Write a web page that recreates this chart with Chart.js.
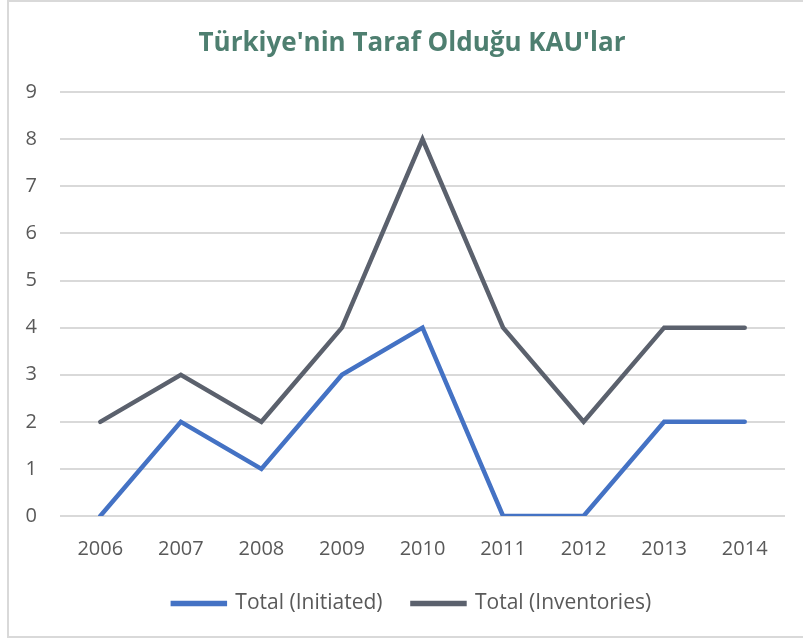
<!DOCTYPE html>
<html lang="tr">
<head>
<meta charset="UTF-8">
<title>Türkiye'nin Taraf Olduğu KAU'lar</title>
<script src="https://cdn.jsdelivr.net/npm/chart.js"></script>
<style>
    html, body { margin: 0; padding: 0; background: #ffffff; overflow: hidden; }
    #frame {
        position: absolute; left: 7px; top: 0px;
        width: 830px; height: 634px;
        border: 2px solid #d9d9d9;
    }
    #grafik {
        position: absolute; left: 8px; top: 0px;
        width: 808px; height: 640px;
    }
</style>
</head>
<body>
<div id="frame"></div>
<canvas id="grafik" width="808" height="640"></canvas>
<script>
    // Veriler
    const years = ['2006', '2007', '2008', '2009', '2010', '2011', '2012', '2013', '2014'];
    const initiated = [0, 2, 1, 3, 4, 0, 0, 2, 2];
    const inventories = [2, 3, 2, 4, 8, 4, 2, 4, 4];

    const fontFam = "'Open Sans', sans-serif";

    // el eje Y se estrecha para centrar el título; aquí se amplía la zona de etiquetas
    const ensancharEjeY = {
        id: 'ensancharEjeY',
        afterLayout(chart) {
            chart.scales.y.left = 2;
        }
    };

    new Chart(document.getElementById('grafik').getContext('2d'), {
        type: 'line',
        data: {
            labels: years,
            datasets: [
                {
                    label: 'Total (Initiated)',
                    data: initiated,
                    borderColor: '#4472c4',
                    backgroundColor: '#4472c4',
                    borderWidth: 4.5,
                    borderCapStyle: 'round',
                    pointRadius: 0,
                    tension: 0
                },
                {
                    label: 'Total (Inventories)',
                    data: inventories,
                    borderColor: '#5b616d',
                    backgroundColor: '#5b616d',
                    borderWidth: 4.5,
                    borderCapStyle: 'round',
                    pointRadius: 0,
                    tension: 0
                }
            ]
        },
        plugins: [ensancharEjeY],
        options: {
            responsive: false,
            animation: false,
            layout: { padding: { left: 31, right: 31, top: 0, bottom: 16 } },
            plugins: {
                title: {
                    display: true,
                    text: "Türkiye'nin Taraf Olduğu KAU'lar",
                    color: '#4e7f70',
                    font: { family: fontFam, size: 26, weight: 'bold' },
                    padding: { top: 28, bottom: 33 }
                },
                legend: {
                    position: 'bottom',
                    labels: {
                        color: '#595959',
                        font: { family: fontFam, size: 21 },
                        boxWidth: 52,
                        boxHeight: 1,
                        padding: 30
                    }
                },
                tooltip: { enabled: false }
            },
            scales: {
                x: {
                    offset: true,
                    grid: { display: false, drawTicks: false },
                    border: { display: false },
                    ticks: { color: '#595959', font: { family: fontFam, size: 20 }, padding: 21, maxRotation: 0 },
                    afterFit: function (scale) {
                        scale.paddingLeft = 0;
                        scale.paddingRight = 0;
                        scale.height -= 19;
                    }
                },
                y: {
                    min: 0,
                    max: 9,
                    grid: { color: '#d9d9d9', lineWidth: 2, drawTicks: false },
                    border: { display: false },
                    ticks: { stepSize: 1, color: '#595959', font: { family: fontFam, size: 20 }, padding: 23 },
                    afterFit: function (scale) {
                        scale.width = 21;
                    }
                }
            }
        }
    });
</script>
</body>
</html>
